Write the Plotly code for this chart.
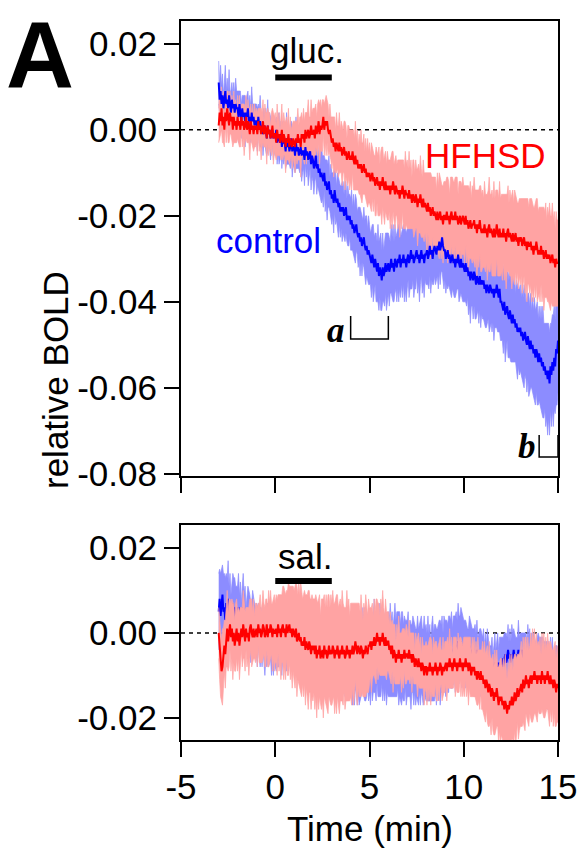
import numpy as np
import plotly.graph_objects as go

# ---------------- data (values in units of 1e-3 relative BOLD) ----------------
t_start, t_step = -3.0, 0.05   # sampling of the traces (min)

stim_window = [0, 3]          # glucose / saline infusion (min)
win_a = [4, 6]                # analysis window a (min)
win_b = [14, 15]              # analysis window b (min)

# top panel: glucose (one row = 1 min)
gluc_control_mean = [
    11, 7, 9, 6, 8, 5, 7, 9, 6, 7, 5, 8, 6, 4, 7, 5, 6, 4, 6, 5,
    5, 3, 6, 4, 2, 5, 3, 4, 2, 4, 3, 5, 2, 3, 1, 4, 2, 3, 1, 2,
    2, 0, 3, 1, 2, 0, 1, -1, 1, 0, 0, -2, 1, -1, 0, -2, -1, 0, -2, -1,
    -2, 0, -3, -1, -2, -3, -1, -4, -2, -3, -3, -5, -2, -4, -3, -5, -4, -2, -5, -4,
    -4, -6, -3, -5, -4, -6, -5, -4, -6, -5, -5, -7, -4, -6, -5, -7, -6, -5, -8, -6,
    -7, -9, -8, -6, -9, -8, -10, -9, -11, -10, -11, -12, -10, -13, -12, -14, -13, -12, -15, -14,
    -16, -15, -17, -14, -16, -17, -16, -18, -17, -19, -18, -19, -18, -20, -19, -18, -21, -20, -21, -20,
    -22, -21, -23, -22, -24, -23, -22, -24, -25, -24, -26, -25, -27, -26, -25, -27, -28, -27, -29, -28,
    -29, -30, -31, -29, -31, -32, -30, -32, -33, -31, -34, -32, -33, -35, -32, -34, -33, -31, -33, -32,
    -31, -33, -32, -30, -32, -31, -33, -30, -31, -32, -30, -31, -29, -32, -30, -31, -29, -31, -30, -32,
    -30, -29, -31, -30, -28, -30, -29, -31, -30, -29, -28, -30, -29, -31, -29, -28, -30, -29, -31, -29,
    -29, -28, -30, -29, -27, -29, -28, -30, -28, -27, -28, -29, -27, -28, -26, -28, -27, -25, -27, -28,
    -28, -30, -29, -28, -30, -29, -31, -30, -29, -31, -30, -32, -30, -31, -29, -31, -32, -30, -32, -31,
    -32, -33, -31, -33, -32, -34, -33, -35, -33, -34, -35, -33, -34, -36, -34, -35, -36, -34, -36, -35,
    -36, -35, -37, -36, -38, -36, -37, -38, -36, -37, -38, -37, -39, -37, -38, -36, -38, -39, -37, -40,
    -40, -41, -42, -40, -43, -42, -41, -43, -44, -42, -44, -45, -43, -45, -44, -46, -45, -47, -46, -47,
    -46, -48, -47, -49, -48, -47, -49, -50, -48, -50, -51, -49, -51, -50, -52, -51, -53, -51, -52, -54,
    -52, -54, -53, -55, -54, -56, -55, -57, -56, -58, -56, -59, -55, -57, -54, -56, -53, -55, -51, -52,
    -49]
gluc_control_sem = [
    5, 3, 6, 4, 5, 3, 4, 6, 3, 5, 4, 6, 3, 5, 4, 3, 5, 4, 6, 4,
    4, 6, 3, 5, 4, 3, 5, 4, 6, 3, 5, 4, 3, 5, 4, 6, 4, 3, 5, 4,
    4, 5, 3, 4, 6, 4, 3, 5, 4, 3, 5, 4, 6, 3, 4, 5, 3, 4, 5, 4,
    4, 3, 5, 4, 6, 4, 3, 5, 4, 5, 3, 4, 6, 4, 5, 3, 5, 4, 6, 4,
    5, 4, 6, 4, 5, 3, 5, 4, 6, 5, 4, 6, 4, 5, 4, 6, 5, 4, 6, 5,
    5, 6, 4, 5, 6, 5, 4, 6, 5, 7, 5, 6, 4, 6, 5, 7, 5, 6, 4, 6,
    6, 5, 7, 5, 6, 4, 6, 7, 5, 6, 5, 7, 6, 5, 7, 6, 5, 7, 6, 5,
    6, 7, 5, 7, 6, 8, 6, 5, 7, 6, 8, 6, 7, 5, 7, 6, 8, 7, 6, 8,
    7, 6, 8, 7, 9, 7, 6, 8, 7, 9, 8, 7, 9, 7, 8, 6, 8, 7, 9, 8,
    7, 8, 6, 8, 7, 9, 7, 8, 6, 8, 7, 9, 8, 7, 6, 8, 7, 9, 7, 8,
    7, 6, 8, 7, 9, 7, 6, 8, 7, 8, 6, 8, 7, 9, 7, 6, 8, 7, 8, 6,
    7, 8, 6, 8, 7, 9, 7, 6, 8, 7, 8, 6, 7, 9, 7, 8, 6, 8, 7, 9,
    7, 8, 7, 9, 6, 8, 7, 9, 8, 7, 9, 7, 8, 6, 8, 9, 7, 8, 7, 9,
    8, 7, 9, 8, 7, 9, 8, 10, 8, 7, 9, 8, 10, 8, 9, 7, 9, 8, 10, 8,
    8, 9, 8, 10, 8, 9, 7, 9, 10, 8, 9, 8, 10, 9, 8, 10, 9, 8, 10, 9,
    9, 8, 10, 9, 11, 9, 8, 10, 9, 11, 10, 9, 11, 9, 10, 8, 10, 11, 9, 10,
    10, 9, 11, 10, 12, 10, 9, 11, 10, 12, 10, 11, 9, 11, 10, 12, 11, 10, 12, 10,
    11, 10, 12, 11, 13, 11, 10, 12, 11, 13, 11, 12, 10, 12, 11, 13, 12, 11, 13, 12,
    12]
gluc_hfhsd_mean = [
    1, 4, 2, 5, 1, 3, 0, 4, 2, 5, 3, 1, 4, 2, 3, 0, 3, 1, 2, 0,
    3, 1, 2, 0, 3, 1, 2, 0, 1, 3, 0, 2, 1, -1, 2, 0, 1, -1, 1, 0,
    1, -1, 2, 0, 1, -1, 0, 2, -1, 1, 0, -2, 1, -1, 0, -2, -1, 1, -2, -1,
    -1, -3, 0, -2, -1, -3, -2, 0, -3, -1, -2, -4, -2, -3, -1, -4, -2, -3, -4, -2,
    -3, -4, -2, -3, -1, -3, -2, -4, -1, -2, -1, -3, 0, -2, -1, 0, -2, -1, 1, -1,
    -1, 0, -2, 1, -1, 0, 2, -1, 1, 0, 1, 3, 0, 2, 1, 2, 0, -1, 0, -2,
    -3, -2, -4, -3, -5, -3, -4, -5, -3, -5, -4, -6, -5, -4, -6, -5, -7, -6, -5, -7,
    -6, -7, -5, -7, -8, -6, -8, -7, -9, -8, -9, -8, -10, -9, -8, -10, -9, -11, -10, -11,
    -10, -12, -11, -10, -12, -11, -13, -12, -11, -13, -12, -14, -12, -13, -11, -13, -14, -12, -14, -13,
    -14, -13, -15, -13, -14, -12, -14, -15, -13, -14, -15, -14, -16, -14, -15, -13, -15, -16, -14, -15,
    -15, -16, -14, -16, -15, -17, -15, -16, -17, -15, -16, -18, -16, -17, -15, -17, -18, -16, -18, -17,
    -18, -19, -17, -19, -18, -20, -19, -18, -20, -19, -20, -21, -19, -21, -20, -19, -21, -20, -22, -20,
    -20, -21, -19, -21, -20, -22, -20, -19, -21, -20, -21, -19, -21, -20, -22, -21, -20, -22, -21, -20,
    -21, -22, -20, -22, -21, -23, -22, -21, -23, -22, -22, -21, -23, -22, -24, -22, -23, -21, -23, -24,
    -23, -24, -22, -24, -23, -25, -23, -22, -24, -23, -24, -25, -23, -25, -24, -22, -24, -25, -23, -25,
    -24, -25, -23, -25, -24, -26, -24, -23, -25, -24, -25, -26, -24, -26, -25, -24, -26, -25, -27, -25,
    -26, -25, -27, -26, -25, -27, -26, -28, -26, -27, -27, -26, -28, -27, -29, -27, -28, -26, -28, -29,
    -28, -29, -27, -29, -28, -30, -29, -28, -30, -29, -30, -29, -31, -30, -29, -31, -30, -32, -30, -31,
    -31]
gluc_hfhsd_sem = [
    4, 6, 3, 5, 4, 6, 4, 3, 5, 4, 6, 4, 5, 3, 5, 4, 6, 4, 5, 3,
    5, 4, 6, 4, 3, 5, 4, 6, 4, 5, 3, 5, 4, 6, 4, 3, 5, 4, 5, 4,
    4, 5, 3, 5, 4, 6, 4, 5, 3, 5, 4, 6, 4, 5, 4, 3, 5, 4, 6, 4,
    5, 4, 6, 4, 5, 3, 5, 6, 4, 5, 4, 6, 5, 4, 6, 4, 5, 3, 5, 4,
    5, 6, 4, 5, 6, 4, 5, 7, 5, 4, 6, 5, 4, 6, 5, 7, 5, 4, 6, 5,
    6, 5, 7, 5, 4, 6, 5, 7, 6, 5, 6, 4, 6, 5, 7, 5, 6, 4, 6, 5,
    6, 5, 7, 6, 5, 7, 5, 6, 7, 5, 6, 7, 5, 6, 8, 6, 5, 7, 6, 7,
    6, 7, 5, 7, 6, 8, 6, 7, 5, 7, 6, 8, 7, 6, 7, 5, 7, 6, 8, 6,
    7, 6, 8, 6, 7, 5, 7, 8, 6, 7, 8, 6, 7, 9, 7, 6, 8, 7, 6, 8,
    7, 6, 8, 7, 9, 7, 6, 8, 7, 6, 8, 7, 9, 7, 8, 6, 8, 7, 9, 7,
    8, 7, 9, 7, 8, 6, 8, 9, 7, 8, 7, 9, 8, 7, 9, 8, 7, 9, 8, 7,
    8, 9, 7, 9, 8, 10, 8, 7, 9, 8, 9, 7, 9, 8, 10, 8, 9, 7, 9, 8,
    8, 9, 8, 10, 8, 7, 9, 8, 10, 8, 9, 8, 10, 9, 7, 9, 8, 10, 8, 9,
    8, 9, 7, 9, 8, 10, 8, 9, 7, 9, 8, 10, 9, 8, 10, 8, 9, 8, 10, 9,
    9, 8, 10, 9, 8, 10, 9, 11, 9, 8, 10, 9, 11, 9, 10, 8, 10, 9, 11, 9,
    9, 10, 8, 10, 9, 11, 9, 10, 8, 10, 9, 11, 10, 9, 11, 9, 10, 8, 10, 9,
    10, 9, 11, 10, 9, 11, 10, 12, 10, 9, 11, 10, 12, 10, 11, 9, 11, 10, 12, 10,
    10, 11, 9, 11, 10, 12, 10, 11, 9, 11, 10, 12, 11, 10, 12, 10, 11, 9, 11, 10,
    10]

# bottom panel: saline
sal_control_mean = [
    5, 8, 4, 7, 9, 5, 6, 3, 7, 5, 8, 4, 6, 3, 5, 7, 4, 6, 3, 5,
    4, 6, 3, 5, 2, 4, 6, 3, 4, 1, 3, 5, 2, 3, 0, 2, 4, 1, 2, 0,
    1, -1, 2, 0, -1, 1, -2, 0, -1, -3, -1, -2, 0, -3, -1, -2, -4, -2, -3, -1,
    -2, -4, -1, -3, -2, 0, -2, -3, -1, -2, 0, -1, -3, -1, -2, 0, -2, -1, -3, -1,
    -1, -2, 0, -2, -1, -3, -1, -2, -4, -2, -1, -3, -2, -4, -2, -3, -1, -3, -4, -2,
    -3, -2, -4, -3, -5, -2, -4, -3, -5, -4, -3, -5, -4, -6, -4, -3, -5, -4, -6, -5,
    -5, -4, -6, -4, -3, -5, -4, -6, -5, -4, -6, -5, -3, -5, -6, -4, -5, -7, -5, -6,
    -6, -5, -7, -5, -6, -4, -6, -7, -5, -6, -7, -5, -6, -4, -6, -5, -7, -5, -4, -6,
    -5, -7, -4, -6, -5, -3, -5, -6, -4, -5, -6, -4, -5, -3, -5, -4, -6, -5, -7, -5,
    -5, -6, -4, -6, -5, -7, -5, -4, -6, -5, -4, -6, -5, -7, -6, -5, -7, -6, -5, -7,
    -6, -5, -7, -6, -8, -6, -5, -7, -6, -8, -7, -6, -8, -6, -7, -5, -7, -8, -6, -7,
    -7, -8, -6, -8, -7, -9, -7, -6, -8, -7, -6, -8, -6, -7, -5, -7, -6, -5, -7, -5,
    -5, -6, -4, -6, -5, -3, -5, -4, -6, -4, -3, -5, -3, -4, -2, -4, -3, -2, -4, -3,
    -4, -3, -5, -4, -6, -4, -3, -5, -4, -6, -5, -7, -5, -6, -4, -6, -7, -5, -7, -6,
    -7, -6, -8, -7, -9, -7, -8, -10, -8, -9, -8, -10, -9, -7, -9, -8, -7, -9, -7, -8,
    -7, -6, -8, -6, -5, -7, -6, -4, -6, -5, -7, -5, -6, -4, -6, -5, -7, -6, -4, -6,
    -5, -6, -4, -6, -5, -7, -5, -6, -4, -6, -5, -7, -6, -5, -7, -6, -8, -6, -7, -5,
    -7, -6, -8, -7, -9, -8, -7, -9, -8, -10, -9, -11, -9, -10, -8, -10, -11, -9, -11, -10,
    -11]
sal_control_sem = [
    9, 7, 10, 8, 7, 9, 8, 10, 7, 8, 9, 7, 8, 6, 8, 7, 9, 7, 8, 6,
    7, 8, 6, 7, 5, 7, 8, 6, 7, 5, 7, 6, 8, 6, 7, 5, 6, 7, 5, 6,
    6, 7, 5, 6, 7, 5, 6, 4, 6, 7, 5, 6, 7, 5, 6, 4, 6, 5, 7, 5,
    6, 5, 7, 5, 6, 4, 6, 7, 5, 6, 5, 7, 6, 5, 7, 5, 6, 4, 6, 5,
    6, 7, 5, 6, 7, 5, 6, 8, 6, 5, 7, 6, 5, 7, 6, 8, 6, 7, 5, 6,
    7, 6, 8, 6, 7, 5, 7, 8, 6, 7, 6, 8, 7, 6, 8, 7, 6, 8, 7, 6,
    7, 8, 6, 8, 7, 9, 7, 6, 8, 7, 8, 6, 8, 7, 9, 7, 8, 6, 8, 7,
    9, 8, 10, 9, 11, 9, 8, 10, 9, 11, 9, 10, 8, 10, 9, 11, 9, 10, 8, 10,
    9, 10, 8, 10, 9, 11, 9, 10, 8, 10, 9, 11, 10, 9, 11, 9, 10, 8, 10, 9,
    10, 9, 11, 9, 10, 8, 10, 11, 9, 10, 9, 11, 10, 9, 11, 10, 9, 10, 8, 10,
    9, 10, 8, 9, 10, 8, 9, 10, 8, 9, 8, 10, 9, 8, 10, 9, 8, 9, 10, 8,
    9, 8, 10, 8, 9, 7, 9, 10, 8, 9, 8, 9, 7, 9, 8, 10, 8, 9, 7, 9,
    8, 9, 7, 8, 9, 7, 8, 9, 7, 8, 7, 9, 8, 7, 9, 8, 7, 8, 9, 7,
    7, 6, 8, 6, 7, 5, 7, 8, 6, 7, 6, 8, 7, 6, 7, 5, 7, 6, 8, 6,
    6, 7, 5, 7, 6, 8, 6, 7, 5, 6, 7, 5, 6, 7, 5, 6, 7, 5, 6, 7,
    6, 5, 7, 6, 5, 7, 5, 6, 4, 6, 5, 7, 6, 5, 6, 4, 6, 5, 7, 5,
    5, 6, 4, 6, 5, 7, 5, 4, 6, 5, 6, 4, 6, 5, 7, 5, 6, 4, 6, 5,
    6, 5, 7, 6, 8, 6, 5, 7, 6, 8, 7, 6, 8, 6, 7, 5, 7, 6, 8, 7,
    7]
sal_hfhsd_mean = [
    0, -4, -7, -9, -8, -6, -3, -5, -1, 1, -2, 0, 2, -1, 1, -2, 0, -3, -1, 1,
    -2, 0, -3, -1, 1, -1, 2, 0, -2, 1, -1, 0, -2, 1, 2, 0, -1, 1, -1, 0,
    1, -1, 2, 0, 1, -1, 0, 2, 1, -1, 0, 2, -1, 1, 0, 2, 1, -1, 1, 0,
    0, 1, -1, 2, 0, 1, -1, 1, 2, 0, 1, -1, 2, 0, 1, 2, 0, 1, -1, 1,
    0, -1, 1, -2, -1, 0, -2, -1, -3, -2, -3, -1, -4, -2, -3, -4, -2, -3, -5, -3,
    -4, -3, -5, -3, -6, -4, -5, -3, -6, -5, -4, -6, -3, -5, -4, -6, -5, -3, -5, -4,
    -5, -3, -4, -6, -4, -5, -3, -5, -6, -4, -5, -3, -5, -4, -6, -5, -3, -5, -4, -6,
    -4, -5, -3, -5, -4, -2, -4, -5, -3, -4, -5, -3, -4, -6, -4, -5, -3, -4, -5, -3,
    -3, -2, -4, -2, -3, -1, -3, -2, 0, -2, -1, -3, -1, -2, 0, -2, -3, -1, -3, -2,
    -2, -4, -3, -5, -3, -6, -4, -5, -7, -5, -6, -4, -6, -5, -7, -5, -6, -4, -6, -5,
    -5, -6, -4, -6, -5, -7, -5, -6, -8, -6, -7, -8, -6, -8, -7, -9, -7, -8, -10, -8,
    -8, -10, -8, -9, -7, -9, -8, -10, -8, -9, -7, -9, -10, -8, -9, -7, -8, -10, -8, -9,
    -8, -7, -9, -7, -8, -6, -8, -7, -9, -7, -6, -8, -7, -9, -7, -8, -6, -8, -7, -9,
    -7, -8, -6, -8, -7, -9, -7, -8, -10, -8, -9, -8, -10, -9, -11, -9, -10, -11, -9, -11,
    -10, -12, -11, -13, -11, -12, -14, -12, -13, -15, -13, -14, -16, -14, -15, -13, -15, -17, -15, -16,
    -15, -17, -16, -18, -16, -17, -19, -17, -18, -16, -17, -15, -17, -16, -14, -16, -15, -13, -15, -14,
    -13, -12, -14, -11, -13, -12, -10, -12, -11, -13, -11, -10, -12, -10, -11, -9, -11, -10, -12, -10,
    -11, -10, -12, -9, -11, -10, -12, -10, -11, -9, -11, -12, -10, -12, -11, -13, -11, -12, -14, -12,
    -13]
sal_hfhsd_sem = [
    6, 7, 8, 7, 9, 7, 6, 8, 7, 9, 7, 8, 6, 8, 7, 9, 7, 6, 8, 7,
    7, 6, 8, 7, 5, 7, 8, 6, 7, 5, 7, 6, 8, 7, 6, 8, 6, 7, 5, 7,
    6, 7, 5, 7, 8, 6, 7, 8, 6, 7, 8, 6, 7, 9, 7, 8, 6, 8, 7, 9,
    7, 8, 9, 7, 9, 8, 10, 8, 9, 11, 9, 10, 8, 10, 11, 9, 11, 10, 12, 10,
    10, 12, 11, 13, 10, 12, 11, 13, 12, 10, 12, 11, 13, 11, 12, 14, 12, 11, 13, 12,
    12, 11, 13, 12, 14, 11, 13, 12, 10, 13, 12, 14, 12, 11, 13, 12, 14, 12, 11, 13,
    12, 13, 11, 13, 12, 14, 12, 11, 13, 12, 11, 13, 12, 10, 12, 11, 13, 11, 12, 10,
    11, 12, 10, 12, 11, 9, 11, 12, 10, 11, 10, 12, 10, 9, 11, 10, 12, 10, 9, 11,
    9, 8, 10, 9, 7, 9, 8, 10, 8, 9, 8, 7, 9, 8, 10, 8, 7, 9, 8, 7,
    7, 6, 8, 7, 6, 8, 6, 7, 5, 7, 6, 8, 6, 5, 7, 6, 7, 5, 6, 7,
    6, 5, 7, 6, 5, 7, 5, 6, 4, 6, 5, 7, 6, 5, 6, 4, 6, 5, 7, 5,
    6, 7, 5, 7, 6, 8, 6, 5, 7, 6, 5, 7, 6, 5, 7, 6, 4, 6, 7, 5,
    6, 5, 7, 6, 5, 7, 5, 6, 4, 6, 5, 7, 6, 5, 7, 6, 5, 7, 5, 6,
    6, 7, 5, 7, 6, 8, 6, 7, 5, 7, 6, 7, 5, 7, 6, 8, 6, 7, 5, 7,
    8, 7, 9, 8, 7, 9, 8, 10, 8, 9, 7, 9, 8, 10, 8, 9, 7, 9, 8, 10,
    9, 8, 10, 9, 11, 9, 8, 10, 9, 11, 9, 10, 8, 10, 9, 11, 9, 8, 10, 9,
    9, 10, 8, 10, 9, 11, 9, 8, 10, 9, 8, 10, 9, 11, 9, 10, 8, 10, 9, 8,
    8, 9, 7, 9, 8, 10, 8, 9, 7, 9, 8, 10, 8, 9, 7, 9, 8, 10, 8, 9,
    8]

x_ticks = [-5, 0, 5, 10, 15]
x_ticktext = ["-5", "0", "5", "10", "15"]
y_ticks_top = [0.02, 0.00, -0.02, -0.04, -0.06, -0.08]
y_ticktext_top = ["0.02", "0.00", "-0.02", "-0.04", "-0.06", "-0.08"]
y_ticks_bottom = [0.02, 0.00, -0.02]
y_ticktext_bottom = ["0.02", "0.00", "-0.02"]
SCALE = 1e-3

# ---------------- styling ----------------
BLUE, BLUE_LIGHT = "#0000FF", "#8C8CFF"
RED, RED_LIGHT = "#FF0000", "#FFA3A3"
FONT = "Liberation Sans, Arial, sans-serif"
SERIF = "Liberation Serif, Times New Roman, serif"
FS = 35

fig = go.Figure()


def tgrid(arr):
    return t_start + t_step * np.arange(len(arr))


def band(mean, sem, color, xa, ya):
    n = min(len(mean), len(sem))
    m = np.array(mean[:n]) * SCALE
    s = np.array(sem[:n]) * SCALE
    tt = tgrid(m)
    xs = np.concatenate([tt, tt[::-1]])
    ys = np.concatenate([m + s, (m - s)[::-1]])
    fig.add_trace(go.Scatter(x=xs, y=ys, fill="toself", fillcolor=color,
                             mode="lines", line=dict(width=0.7, color=color),
                             xaxis=xa, yaxis=ya, hoverinfo="skip"))


def line(mean, color, xa, ya):
    fig.add_trace(go.Scatter(x=tgrid(mean), y=np.array(mean) * SCALE, mode="lines",
                             line=dict(color=color, width=2), xaxis=xa, yaxis=ya,
                             hoverinfo="skip"))


# top panel (glucose)
band(gluc_control_mean, gluc_control_sem, BLUE_LIGHT, "x", "y")
band(gluc_hfhsd_mean, gluc_hfhsd_sem, RED_LIGHT, "x", "y")
line(gluc_control_mean, BLUE, "x", "y")
line(gluc_hfhsd_mean, RED, "x", "y")
# bottom panel (saline)
band(sal_control_mean, sal_control_sem, BLUE_LIGHT, "x2", "y2")
line(sal_control_mean, BLUE, "x2", "y2")
band(sal_hfhsd_mean, sal_hfhsd_sem, RED_LIGHT, "x2", "y2")
line(sal_hfhsd_mean, RED, "x2", "y2")

W, H = 583, 853
xdom = [181 / W, 558 / W]
ydom_top = [1 - 476 / H, 1 - 21 / H]
ydom_bot = [1 - 740 / H, 1 - 525 / H]

axis_common = dict(showgrid=False, zeroline=False, showline=True, linecolor="black",
                   linewidth=2, mirror=True, ticks="outside", ticklen=15, tickwidth=2,
                   tickcolor="black", automargin=False,
                   tickfont=dict(family=FONT, size=FS, color="black"))

fig.update_layout(
    template="none",
    width=W, height=H, margin=dict(l=0, r=0, t=0, b=0, pad=0), autosize=False,
    paper_bgcolor="white", plot_bgcolor="white", showlegend=False, hovermode=False,
    xaxis=dict(domain=xdom, anchor="y", range=[-5, 15], tickvals=x_ticks,
               ticktext=x_ticktext, showticklabels=False, **axis_common),
    yaxis=dict(domain=ydom_top, anchor="x", range=[-0.0805, 0.0253],
               tickvals=y_ticks_top, ticktext=y_ticktext_top, **axis_common),
    xaxis2=dict(domain=xdom, anchor="y2", range=[-5, 15], tickvals=x_ticks,
                ticktext=x_ticktext, **axis_common),
    yaxis2=dict(domain=ydom_bot, anchor="x2", range=[-0.0252, 0.0254],
                tickvals=y_ticks_bottom, ticktext=y_ticktext_bottom, **axis_common),
)

shapes = []
# zero reference lines
for xr, yr in (("x domain", "y"), ("x2 domain", "y2")):
    shapes.append(dict(type="line", xref=xr, yref=yr, x0=0, x1=1, y0=0, y1=0,
                       line=dict(color="black", width=1.5, dash="4px,4px"), layer="below"))
# stimulus bars
shapes.append(dict(type="line", xref="x", yref="y domain", x0=stim_window[0], x1=stim_window[1],
                   y0=0.876, y1=0.876, line=dict(color="black", width=6)))
shapes.append(dict(type="line", xref="x2", yref="y2 domain", x0=stim_window[0], x1=stim_window[1],
                   y0=0.739, y1=0.739, line=dict(color="black", width=6)))
# analysis window brackets
for win, top, bot in ((win_a, 0.3516, 0.301), (win_b, 0.090, 0.042)):
    shapes.append(dict(type="path", xref="x", yref="y domain",
                       path=f"M {win[0]},{top} L {win[0]},{bot} L {win[1]},{bot} L {win[1]},{top}",
                       line=dict(color="black", width=1.5)))
fig.update_layout(shapes=shapes)

ann = []


def add_text(text, x, y, size=FS, color="black", family=FONT, yanchor="middle", **kw):
    ann.append(dict(text=text, xref="paper", yref="paper", x=x / W, y=1 - y / H,
                    xanchor="center", yanchor=yanchor, showarrow=False,
                    font=dict(family=family, size=size, color=color), **kw))


add_text("<b>A</b>", 40, 1, size=94, yanchor="top")
add_text("gluc.", 307, 51)
add_text("sal.", 305, 556)
add_text("HFHSD", 485, 156, color=RED)
add_text("control", 268, 240, color=BLUE)
add_text("<b><i>a</i></b>", 336, 330, family=SERIF)
add_text("<b><i>b</i></b>", 527, 446, family=SERIF)
add_text("relative BOLD", 55, 380, textangle=-90)
add_text("Time (min)", 370, 828)
fig.update_layout(annotations=ann)

fig.write_html("out.html")
